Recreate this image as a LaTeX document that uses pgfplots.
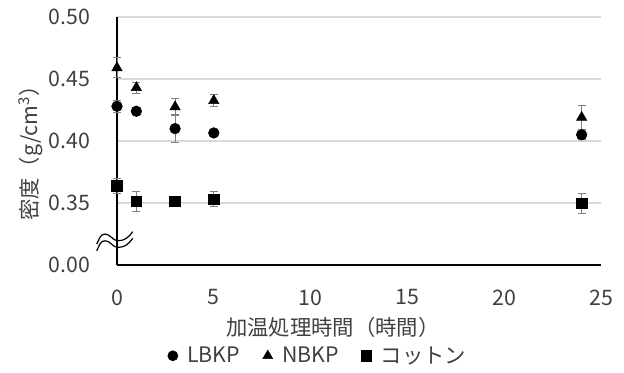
\documentclass[border=0pt]{standalone}
\usepackage{pgfplots}
\pgfplotsset{compat=1.18}
\usepackage{fontspec}
\setmainfont{Noto Sans CJK JP}
\definecolor{txt}{HTML}{404040}
\definecolor{grd}{HTML}{D9D9D9}
\definecolor{eb}{HTML}{808080}
\pgfplotstableread{
x y ey
0 0.428 0.005
1 0.424 0.003
3 0.410 0.0115
5 0.4065 0.002
24 0.405 0.004
}\lbkp
\pgfplotstableread{
x y ey
0 0.459 0.008
1 0.443 0.0045
3 0.4275 0.007
5 0.4325 0.005
24 0.419 0.0097
}\nbkp
\pgfplotstableread{
x y ey
0 0.364 0.006
1 0.3513 0.008
3 0.3513 0.003
5 0.353 0.006
24 0.3497 0.0078
}\cotton
\begin{document}
\begin{tikzpicture}
\begin{axis}[
  scale only axis, width=363pt, height=186pt,
  xmin=0, xmax=25, ymin=0.30, ymax=0.50,
  clip=false,
  axis lines*=left,
  axis line style={black, line width=1pt},
  xtick={0,5,10,15,20,25},
  ytick={0.30,0.35,0.40,0.45,0.50},
  yticklabels={0.00,0.35,0.40,0.45,0.50},
  major tick length=0pt,
  ymajorgrids, grid style={grd, line width=0.8pt},
  /pgf/number format/assume math mode=true,
  tick label style={font=\fontsize{16}{18}\selectfont, text=txt},
  xticklabel style={yshift=-15pt},
  yticklabel style={xshift=-16.5pt},
  xlabel={加温処理時間（時間）},
  xlabel style={at={(axis description cs:0.446,-0.25)}, anchor=center, font=\fontsize{16}{18}\selectfont, text=txt},
  ylabel={密度（g/cm\textsuperscript{3}）},
  ylabel style={at={(axis description cs:-0.178,0.472)}, anchor=center, font=\fontsize{16}{18}\selectfont, text=txt},
  legend style={at={(axis description cs:0.416,-0.366)}, anchor=center, draw=none, fill=none,
    legend columns=-1, font=\fontsize{16}{18}\selectfont, text=txt,
    /tikz/every odd column/.append style={column sep=5pt},
    /tikz/every even column/.append style={column sep=15pt}},
  legend image post style={scale=0.95},
  error bars/y dir=both, error bars/y explicit,
  error bars/error bar style={eb, line width=0.7pt},
  error bars/error mark options={rotate=90, eb, mark size=3pt, line width=0.7pt},
]
\addplot[only marks, mark=*, mark size=4pt, black] table[x=x, y=y, y error=ey] {\lbkp};
\addlegendentry{LBKP}
\addplot[only marks, mark=triangle*, mark size=4.5pt, black] table[x=x, y=y, y error=ey] {\nbkp};
\addlegendentry{NBKP}
\addplot[only marks, mark=square*, mark size=4pt, black] table[x=x, y=y, y error=ey] {\cotton};
\addlegendentry{コットン}
\coordinate (brk) at (axis cs:0,0.32);
\end{axis}
\begin{scope}[shift={(brk)}, line width=0.9pt]
\draw (-15.2pt,-2.9pt) to[out=60,in=180] (-9pt,4.6pt) to[out=0,in=180] (0.75pt,-0.4pt) to[out=0,in=235] (11.8pt,6.4pt);
\draw (-15.2pt,-7.9pt) to[out=60,in=180] (-9pt,-0.4pt) to[out=0,in=180] (0.75pt,-5.4pt) to[out=0,in=235] (11.8pt,1.4pt);
\end{scope}
\path (current axis.south west) ++(-87.75pt,-80.25pt) rectangle ++(468pt,279pt);
\end{tikzpicture}
\end{document}
